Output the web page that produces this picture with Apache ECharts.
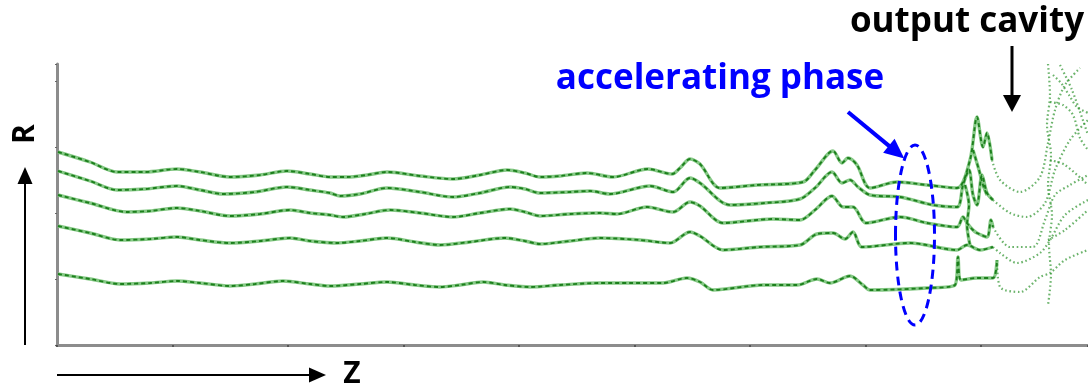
<!DOCTYPE html>
<html>
<head>
<meta charset="utf-8">
<title>Electron trajectories R–Z</title>
<script src="https://cdn.jsdelivr.net/npm/echarts@6/dist/echarts.min.js"></script>
<style>
  html, body { margin: 0; padding: 0; background: #ffffff; }
  #chart { width: 1088px; height: 388px; }
</style>
</head>
<body>
<div id="chart"></div>
<script>
// Electron trajectories in the R–Z plane (arbitrary length units).
// Each trajectory is a list of [z, r] points.
const traj1 = [[1,193],[33,183],[60,173],[88,173],[120,176],[143,173],[173,168],[203,170],[230,174],[253,171],[273,168],[290,168],[310,170],[330,173],[363,169],[396,166],[423,170],[450,175],[468,172],[483,168],[503,169],[530,172],[556,168],[591,176],[615,171],[623,177],[633,186],[643,181],[663,157],[700,160],[746,163],[758,175],[776,194],[785,182],[791,187],[800,180],[813,157],[840,163],[870,160],[900,157],[913,185],[920,228],[926,198],[930,212],[935,185],[943,165],[963,153],[983,168],[991,202],[998,235],[1008,260],[1023,277]];
const traj2 = [[1,174],[33,164],[60,155],[88,156],[120,159],[143,155],[166,151],[198,153],[230,158],[253,155],[273,152],[283,149],[303,151],[330,157],[363,153],[396,148],[423,152],[453,158],[468,156],[483,152],[513,153],[533,154],[553,151],[593,159],[616,153],[633,167],[643,162],[673,140],[708,142],[743,146],[758,157],[775,173],[785,162],[793,165],[801,158],[813,150],[843,148],[876,140],[900,138],[906,160],[912,175],[916,150],[920,140],[925,170],[930,152],[936,145],[953,132],[970,128],[988,142],[998,175],[1013,205],[1031,225]];
const traj3 = [[1,150],[33,142],[70,133],[93,134],[120,137],[143,134],[173,129],[203,131],[233,135],[253,132],[273,130],[286,128],[308,131],[333,135],[363,132],[396,128],[423,132],[453,136],[468,133],[483,129],[513,131],[543,132],[560,131],[590,138],[616,133],[633,143],[643,139],[666,122],[716,126],[743,125],[758,135],[775,149],[786,138],[796,138],[809,122],[843,128],[870,122],[900,118],[906,128],[910,122],[916,115],[920,112],[930,108],[934,125],[936,118],[953,98],[976,98],[988,125],[998,150],[1013,160],[1031,170]];
const traj4 = [[1,119],[33,112],[63,105],[93,106],[120,108],[143,105],[173,102],[203,104],[233,107],[253,104],[280,102],[303,104],[330,107],[358,103],[383,100],[413,103],[448,107],[468,104],[483,101],[513,104],[543,107],[583,105],[613,102],[633,113],[643,109],[666,95],[703,98],[743,100],[760,111],[776,112],[788,106],[796,113],[805,98],[853,102],[900,95],[910,100],[923,95],[936,98],[943,92],[960,82],[983,92],[993,105],[1008,130],[1031,145]];
const traj5 = [[1,71],[33,66],[63,61],[93,62],[120,64],[143,62],[173,59],[198,61],[226,64],[253,61],[273,59],[303,61],[330,63],[358,60],[383,58],[403,60],[426,63],[448,60],[473,58],[503,60],[543,62],[573,62],[606,62],[630,67],[643,63],[656,55],[706,60],[740,60],[760,66],[773,62],[793,69],[806,60],[813,55],[870,57],[898,60],[901,88],[904,65],[920,67],[936,67],[940,85],[943,58],[963,53],[983,68],[993,72],[1008,85],[1031,95]];

// Tangled electrons at the cavity entrance
const tangle1 = [[908,160],[912,140],[910,120],[913,100]];
const tangle2 = [[916,195],[922,175],[926,160],[930,150]];

// Scattered / reflected electrons inside the output cavity
const stray1 = [[991,281],[993,250],[990,220],[994,190],[991,160],[995,130],[992,100],[994,70],[991,40]];
const stray2 = [[1003,280],[1015,255],[1031,210]];
const stray3 = [[993,243],[1006,240],[1016,230],[1023,207],[1031,195]];
const stray4 = [[993,185],[1008,180],[1031,160]];
const stray5 = [[991,105],[1008,115],[1031,135]];
const stray6 = [[996,270],[1004,262],[1012,250],[1020,238],[1031,232]];

// Axis extent and tick spacing (same length units as the data)
const zMax = 1031, zStep = 115.5;
const rMax = 281, rStep = 66;

// Entrance of the output cavity: beyond this z the beam becomes sparse
const zCavity = 940;

// Region of the accelerating phase, drawn as a dashed ellipse
const accelCenter = [858, 110];
const accelHalf = [19.5, 90];

const trajectories = [traj1, traj2, traj3, traj4, traj5];
const tangles = [tangle1, tangle2];
const strays = [stray1, stray2, stray3, stray4, stray5, stray6];

const denseBody = { color: '#86c986', width: 3.4 };
const denseDash = { color: '#1c7f1c', width: 1.9, type: [4, 3] };
const sparseDots = { color: '#2f942f', width: 2.2, type: [1.6, 2.6], opacity: 0.7 };

const series = [];
function addDense(pts) {
  series.push({ type: 'line', data: pts, smooth: 0.3, showSymbol: false, silent: true, lineStyle: denseBody, z: 2 });
  series.push({ type: 'line', data: pts, smooth: 0.3, showSymbol: false, silent: true, lineStyle: denseDash, z: 3 });
}
function addSparse(pts) {
  series.push({ type: 'line', data: pts, smooth: 0.3, showSymbol: false, silent: true, lineStyle: sparseDots, z: 2 });
}
trajectories.forEach((pts) => {
  let idx = pts.findIndex(p => p[0] > zCavity);
  if (idx < 0) idx = pts.length;
  addDense(pts.slice(0, idx));
  addSparse(pts.slice(Math.max(idx - 1, 0)));
});
tangles.forEach(addDense);
strays.forEach(addSparse);

const chart = echarts.init(document.getElementById('chart'), null, { renderer: 'canvas' });
const FONT = '"Open Sans", "Noto Sans", sans-serif';

chart.setOption({
  animation: false,
  backgroundColor: '#ffffff',
  grid: { left: 57, right: 0, top: 64, bottom: 43, containLabel: false },
  xAxis: {
    type: 'value', min: 0, max: zMax, interval: zStep,
    axisLine: { show: true, lineStyle: { color: '#8c8c8c', width: 3 } },
    axisTick: { show: true, length: 2, lineStyle: { color: '#444', width: 1.5 } },
    axisLabel: { show: false }, splitLine: { show: false }
  },
  yAxis: {
    type: 'value', min: 0, max: rMax, interval: rStep,
    axisLine: { show: true, lineStyle: { color: '#8c8c8c', width: 3 } },
    axisTick: { show: true, length: 2, lineStyle: { color: '#666', width: 1 } },
    axisLabel: { show: false }, splitLine: { show: false }
  },
  series: series
});

// Arrow helper: shaft plus triangular head ending at (x2, y2)
function arrow(x1, y1, x2, y2, color, width, headLen, headHalf) {
  const dx = x2 - x1, dy = y2 - y1, L = Math.hypot(dx, dy);
  const ux = dx / L, uy = dy / L, nx = -uy, ny = ux;
  const bx = x2 - ux * headLen, by = y2 - uy * headLen;
  return [
    { type: 'line', silent: true, shape: { x1: x1, y1: y1, x2: bx + ux, y2: by + uy },
      style: { stroke: color, lineWidth: width } },
    { type: 'polygon', silent: true,
      shape: { points: [[x2, y2], [bx + nx * headHalf, by + ny * headHalf], [bx - nx * headHalf, by - ny * headHalf]] },
      style: { fill: color } }
  ];
}

const c = chart.convertToPixel({ gridIndex: 0 }, accelCenter);
const e = chart.convertToPixel({ gridIndex: 0 }, [accelCenter[0] + accelHalf[0], accelCenter[1] + accelHalf[1]]);
const rx = Math.abs(e[0] - c[0]), ry = Math.abs(e[1] - c[1]);

const graphics = [];
// R axis label and arrow
graphics.push({ type: 'text', silent: true, x: 25, y: 134, rotation: Math.PI / 2,
  style: { text: 'R', font: 'bold 30px ' + FONT, fill: '#000', align: 'center', verticalAlign: 'middle' } });
graphics.push(...arrow(25, 345, 25, 167, '#000', 2, 17, 7.5));
// Z axis label and arrow
graphics.push({ type: 'text', silent: true, x: 352, y: 374,
  style: { text: 'Z', font: 'bold 30px ' + FONT, fill: '#000', align: 'center', verticalAlign: 'middle' } });
graphics.push(...arrow(57, 375, 326, 375, '#000', 2, 17, 7.5));
// Output cavity
graphics.push({ type: 'text', silent: true, x: 967, y: 22,
  style: { text: 'output cavity', font: 'bold 35px ' + FONT, fill: '#000', align: 'center', verticalAlign: 'middle' } });
graphics.push(...arrow(1012, 46, 1012, 112, '#000', 3, 17, 9));
// Accelerating phase
graphics.push({ type: 'text', silent: true, x: 720, y: 79,
  style: { text: 'accelerating phase', font: 'bold 35px ' + FONT, fill: '#0000ff', align: 'center', verticalAlign: 'middle' } });
graphics.push(...arrow(848, 112, c[0] - rx * 0.55, c[1] - ry * 0.85, '#0000ff', 4, 20, 9));
graphics.push({ type: 'ellipse', silent: true, shape: { cx: c[0], cy: c[1], rx: rx, ry: ry },
  style: { fill: 'none', stroke: '#0000ff', lineWidth: 3, lineDash: [9, 6] }, z: 10 });

chart.setOption({ graphic: graphics });
</script>
</body>
</html>
